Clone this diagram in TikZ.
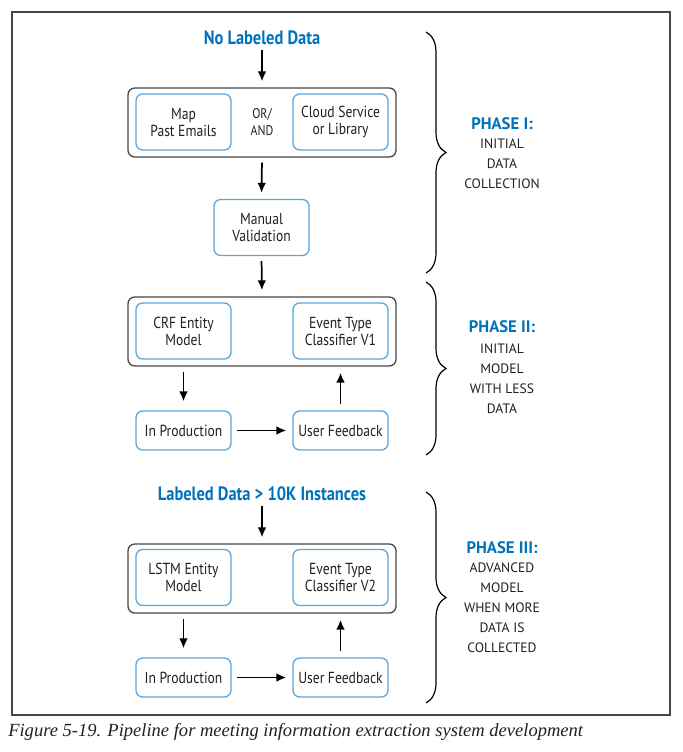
\documentclass[tikz,border=0pt]{standalone}
\usepackage{fontspec}
\usepackage{tikz}
\usetikzlibrary{positioning}
\usetikzlibrary{arrows.meta}
\usetikzlibrary{decorations.pathreplacing}
\usepackage{color}

\newfontfamily\boxfont[FakeStretch=0.85]{PT Sans}
\newfontfamily\phasefont{PT Sans}
\newfontfamily\capfont{Liberation Serif}
\definecolor{phaseblue}{RGB}{0,114,188}
\definecolor{boxblue}{RGB}{91,167,222}
\definecolor{inkgray}{RGB}{35,31,32}
\definecolor{framegray}{RGB}{70,70,70}

\tikzset{
 stage/.style={draw=boxblue, line width=1pt, rounded corners=5pt, fill=white,
  minimum width=71.25pt, minimum height=42pt, inner sep=0pt, align=center,
  text=inkgray, font=\boxfont\fontsize{12}{12.75}\selectfont},
 small stage/.style={stage, minimum height=29.25pt},
 group/.style={draw=framegray, line width=1pt, rounded corners=5pt,
  minimum width=201pt, minimum height=51.75pt, inner sep=0pt},
 datahead/.style={text=phaseblue, inner sep=0pt,
  font=\boxfont\bfseries\fontsize{14.5}{16}\selectfont},
 phasehead/.style={text=phaseblue, inner sep=0pt,
  font=\phasefont\bfseries\fontsize{12.5}{14}\selectfont},
 phasebody/.style={text=inkgray, inner sep=0pt, align=center,
  font=\phasefont\fontsize{10.2}{15}\selectfont},
 flow/.style={-{Latex[length=7.5pt,width=6.5pt]}, line width=1.3pt, shorten <=3.75pt, shorten >=4.5pt},
 phasebrace/.style={decorate, decoration={brace, amplitude=15pt}, line width=0.9pt}
}

\begin{document}
\begin{tikzpicture}[x=0.75pt, y=-0.75pt]
 \useasboundingbox (0,0) rectangle (682,752);
 \draw[line width=0.8pt, framegray] (12,12) rectangle (670,715);

 % phase I
 \node[datahead] (nolab) at (262,38) {No Labeled Data};
 \node[group] (grp1) at (262,122.5) {};
 \node[stage] (mail) at (183.5,122) {Map\\Past Emails};
 \node[stage] (cloud) at (340.5,122) {Cloud Service\\or Library};
 \node[align=center, text=inkgray, font=\boxfont\fontsize{10.5}{12.75}\selectfont] (orand) at (262,122) {OR/\\AND};
 \node[stage] (manual) at (261.5,227.5) {Manual\\Validation};
 \draw[flow] (nolab.south) -- (grp1.north);
 \draw[flow] (grp1.south) -- (manual.north);

 % phase II
 \node[group] (grp2) at (262,331.5) {};
 \node[stage] (crf) at (183.5,331) {CRF Entity\\Model};
 \node[stage] (evone) at (340.5,331) {Event Type\\Classifier V1};
 \node[small stage] (prodone) at (183.5,430.5) {In Production};
 \node[small stage] (feedone) at (340.5,430.5) {User Feedback};
 \draw[flow] (manual.south) -- (grp2.north);
 \draw[flow, shorten >=6.75pt] (crf.south |- grp2.south) -- (prodone.north);
 \draw[flow, shorten <=4.5pt] (feedone.north) -- (evone.north |- grp2.south);
 \draw[flow] (prodone.east) -- (feedone.west);

 % phase III
 \node[datahead] (lab) at (262,494) {Labeled Data > 10K Instances};
 \node[group] (grp3) at (262,578.5) {};
 \node[stage] (lstm) at (183.5,577.5) {LSTM Entity\\Model};
 \node[stage] (evtwo) at (340.5,577.5) {Event Type\\Classifier V2};
 \node[small stage] (prodtwo) at (183.5,677.5) {In Production};
 \node[small stage] (feedtwo) at (340.5,677.5) {User Feedback};
 \draw[flow] (lab.south) -- (grp3.north);
 \draw[flow, shorten >=6.75pt] (lstm.south |- grp3.south) -- (prodtwo.north);
 \draw[flow, shorten <=4.5pt] (feedtwo.north) -- (evtwo.north |- grp3.south);
 \draw[flow] (prodtwo.east) -- (feedtwo.west);

 % braces and phase labels
 \draw[phasebrace] (426,32) -- (426,273);
 \draw[phasebrace] (426,282) -- (426,455);
 \draw[phasebrace] (426,492) -- (426,703);
 \node[phasehead] (ph1) at (502,124) {PHASE I:};
 \node[phasebody, below=6.5pt of ph1] (ph1txt) {INITIAL\\DATA\\COLLECTION};
 \node[phasehead] (ph2) at (502,327) {PHASE II:};
 \node[phasebody, below=7.5pt of ph2] (ph2txt) {INITIAL\\MODEL\\WITH LESS\\DATA};
 \node[phasehead] (ph3) at (502,548) {PHASE III:};
 \node[phasebody, below=6.5pt of ph3] (ph3txt) {ADVANCED\\MODEL\\WHEN MORE\\DATA IS\\COLLECTED};

 \node[anchor=west, inner sep=0pt, text=inkgray, font=\capfont\itshape\fontsize{13.9}{15}\selectfont] (caption) at (8,732)
  {Figure 5-19. Pipeline for meeting information extraction system development};
\end{tikzpicture}
\end{document}
